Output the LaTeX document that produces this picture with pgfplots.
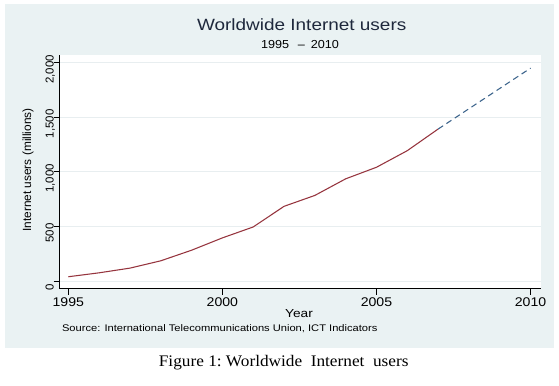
\documentclass[border=0pt]{standalone}
\usepackage{pgfplots}
\pgfplotsset{compat=1.18}
\usepackage{fontspec}
\setmainfont{Liberation Sans}
\newfontfamily\seriffont{Liberation Serif}
\definecolor{bgpanel}{RGB}{234,242,243}
\definecolor{gridc}{RGB}{232,238,240}
\definecolor{maroonline}{RGB}{150,52,62}
\definecolor{navyline}{RGB}{60,100,140}
\pgfplotstableread{
year users
1995 39
1996 75
1997 118
1998 185
1999 282
2000 395
2001 495
2002 684
2003 784
2004 936
2005 1042
2006 1194
2007 1392
}\actual
\pgfplotstableread{
year users
2007 1392
2010 1950
}\projected
\begin{document}
\begin{tikzpicture}[x=0.75pt,y=0.75pt]
\useasboundingbox (0,0) rectangle (559,385);
\fill[bgpanel] (5,37) rectangle (553.5,381);
\begin{axis}[
  at={(44.625pt,72.375pt)}, anchor=south west,
  scale only axis, width=361.125pt, height=175.125pt,
  xmin=1994.714, xmax=2010.34,
  ymin=-68.7, ymax=2070.6,
  axis x line*=bottom, axis y line*=left,
  axis line style={black, line width=0.75pt, -},
  axis background/.style={fill=white},
  xtick={1995,2000,2005,2010},
  ytick={0,500,1000,1500,2000},
  ymajorgrids, grid style={gridc, line width=0.75pt},
  tick align=outside, major tick length=4.5pt,
  tick style={black, line width=0.75pt},
  /pgf/number format/assume math mode=true,
  xticklabel={\pgfmathprintnumber[1000 sep={}]{\tick}},
  yticklabel={\pgfmathprintnumber[1000 sep={,}]{\tick}},
  xticklabel style={font=\fontsize{9.45pt}{10pt}\selectfont, xscale=1.12, anchor=base, inner sep=0pt, yshift=-8.9pt},
  yticklabel style={font=\fontsize{8.6pt}{9pt}\selectfont, rotate=90, anchor=base, inner sep=0pt, xshift=-5pt},
  clip=false,
]
\addplot[maroonline, line width=0.8pt] table[x=year,y=users]{\actual};
\addplot[navyline, line width=0.8pt, dash pattern=on 4.5pt off 3pt] table[x=year,y=users]{\projected};
\end{axis}
\node[anchor=base, xscale=1.165, font=\fontsize{12.2pt}{14pt}\selectfont, text={rgb,255:red,30;green,40;blue,60}] at (301.7,354) {Worldwide Internet users};
\node[anchor=base, xscale=1.09, font=\fontsize{8.7pt}{10pt}\selectfont] at (300,336.7) {1995\hspace{6pt}--\hspace{4pt}2010};
\node[anchor=base, xscale=1.18, font=\fontsize{8.7pt}{10pt}\selectfont] at (299,67.7) {Year};
\node[anchor=base west, xscale=1.16, font=\fontsize{7.2pt}{8pt}\selectfont, inner sep=0pt] at (61.7,54) {Source: International Telecommunications Union, ICT Indicators};
\node[anchor=base, rotate=90, font=\fontsize{8.9pt}{10pt}\selectfont, inner sep=0pt] at (31,215) {Internet users (millions)};
\node[anchor=base, xscale=1.07, font=\seriffont\fontsize{12.1pt}{14pt}\selectfont] at (283.7,18.3) {Figure 1:\hspace{3pt}Worldwide\hspace{6pt}Internet\hspace{6pt}users};
\end{tikzpicture}
\end{document}
